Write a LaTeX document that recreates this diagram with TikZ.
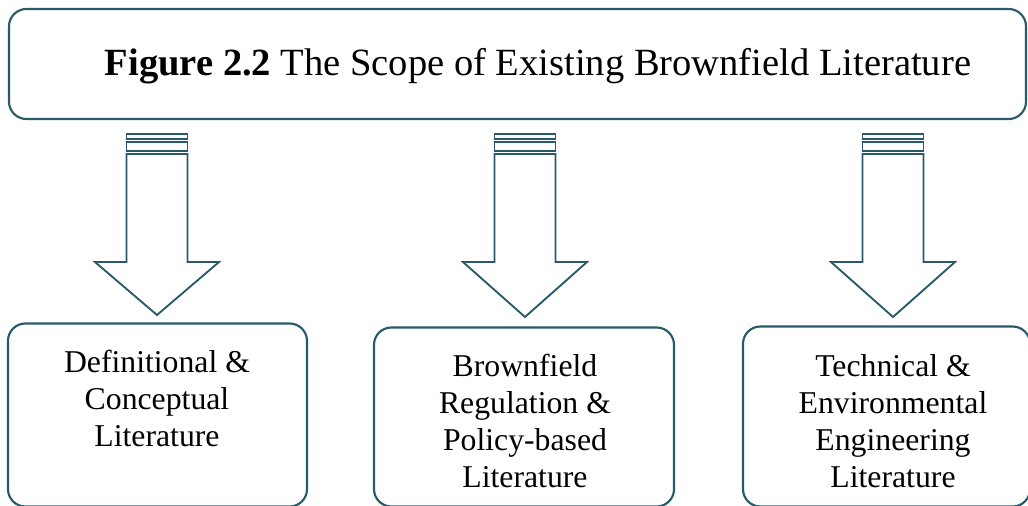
\documentclass[tikz,border=0pt]{standalone}
\usepackage{fontspec}
\setmainfont{Liberation Serif}
\definecolor{tealline}{RGB}{40,90,106}

\begin{document}
\begin{tikzpicture}[
    x=0.75pt, y=-0.75pt,
    box/.style={rectangle, draw=tealline, line width=1.6pt, rounded corners=13pt},
    boxtext/.style={anchor=north, inner sep=0pt, align=center, font=\fontsize{23.8}{27.75}\selectfont},
    blockarrow/.style={draw=tealline, line width=1.4pt, fill=white}
]
    \useasboundingbox (0,0) rectangle (1028,506);
    \clip (0,0) rectangle (1028,506);

    % Title
    \node[box, minimum width=762.75pt, minimum height=82.5pt] (title) at (517.5,64) {};
    \node[font=\fontsize{28.9}{34}\selectfont] (titletext) at (538,66)
          {\textbf{Figure 2.2} The Scope of Existing Brownfield Literature};

    % Arrows
    \foreach \cx/\tip in {157/315, 525/317, 893/317} {
        \draw[blockarrow] (\cx-30.5,134) rectangle (\cx+30.5,139);
        \draw[blockarrow] (\cx-30.5,142) rectangle (\cx+30.5,151);
        \draw[blockarrow] (\cx-30.5,154) -- (\cx+30.5,154) -- (\cx+30.5,262)
            -- (\cx+62,262) -- (\cx,\tip) -- (\cx-62,262) -- (\cx-30.5,262) -- cycle;
    }

    % Literature boxes
    \node[box, minimum width=224.25pt, minimum height=137.25pt] (defn) at (157.5,415) {};
    \node[box, minimum width=225pt, minimum height=134.25pt] (policy) at (524,417) {};
    \node[box, minimum width=215.25pt, minimum height=135pt] (tech) at (886.5,416.5) {};

    \node[boxtext] (defntext) at (157,350) {Definitional \&\\Conceptual\\Literature};
    \node[boxtext] (policytext) at (525,354) {Brownfield\\Regulation \&\\Policy-based\\Literature};
    \node[boxtext] (techtext) at (893,354) {Technical \&\\Environmental\\Engineering\\Literature};

\end{tikzpicture}
\end{document}
